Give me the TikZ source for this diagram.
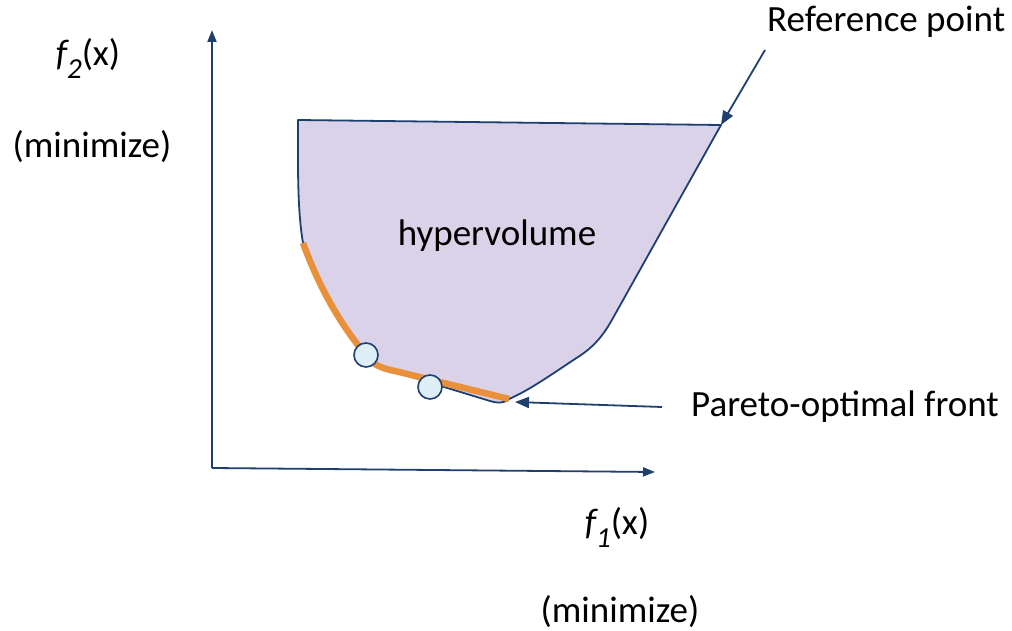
\documentclass[tikz,border=0pt]{standalone}
\usepackage{fontspec}
\setmainfont{Carlito}
\usetikzlibrary{arrows.meta}
\definecolor{axisblue}{HTML}{1F3F6E}
\definecolor{hvfill}{HTML}{D9D2E9}
\definecolor{frontorange}{HTML}{E8913A}
\definecolor{ptfill}{HTML}{DDEEF7}
\tikzset{
  axis/.style={draw=axisblue, line width=1.8pt, -{Triangle[length=12pt,width=9pt]}},
  pointer/.style={draw=axisblue, line width=1.8pt, -{Triangle[length=14pt,width=11pt]}},
  lbl/.style={font=\fontsize{37}{42}\selectfont, inner sep=0pt},
  solpt/.style={circle, draw=axisblue, fill=ptfill, line width=1.6pt, minimum size=24pt, inner sep=0pt},
}
\newcommand{\fsub}[1]{{\itshape f\raisebox{-0.35em}{\fontsize{29}{32}\selectfont #1}}(x)}
\begin{document}
\begin{tikzpicture}[x=1pt,y=-1pt]
\useasboundingbox (0,0) rectangle (1012,631);
% axes
\coordinate (o) at (212,468);
\coordinate (ytop) at (212,30);
\coordinate (xend) at (655,472);
\draw[axis] (o) -- (ytop);
\draw[axis] (o) -- (xend);
% hypervolume region
\coordinate (tl) at (298,120);
\coordinate (ref) at (721,125);
\coordinate (fs) at (303,243);
\coordinate (fe) at (509,399);
\path[fill=hvfill, draw=axisblue, line width=1.8pt, line join=round]
  (tl) -- (ref) -- (613,318)
  .. controls (602,338) and (592,348) .. (578,357)
  .. controls (555,372) and (530,390) .. (fe)
  .. controls (503,404) and (497,403) .. (490,401)
  -- (395,372)
  .. controls (380,368) and (372,364) .. (366,355)
  .. controls (345,330) and (322,295) .. (fs)
  .. controls (299,220) and (298,190) .. (298,160) -- cycle;
% front
\draw[frontorange, line width=6.5pt, line cap=butt]
  (fs) .. controls (322,295) and (345,330) .. (366,355)
  .. controls (372,364) and (380,368) .. (395,371)
  -- (fe);
\node[solpt] (p1) at (366,355) {};
\node[solpt] (p2) at (430,387) {};
% labels
\node[lbl] (hv) at (497,236) {hypervolume};
\node[lbl, anchor=west] (reflbl) at (767,22) {Reference point};
\node[lbl, anchor=west] (parlbl) at (691,407) {Pareto-optimal front};
\node[lbl] (f2) at (88,58) {\fsub{2}};
\node[lbl] (min2) at (92,147) {(minimize)};
\node[lbl] (f1) at (617,527) {\fsub{1}};
\node[lbl] (min1) at (620,612) {(minimize)};
% pointers
\coordinate (refstart) at (765,50);
\coordinate (parstart) at (662,407);
\draw[pointer] (refstart) -- (ref);
\draw[pointer] (parstart) -- (515,402);
\end{tikzpicture}
\end{document}
